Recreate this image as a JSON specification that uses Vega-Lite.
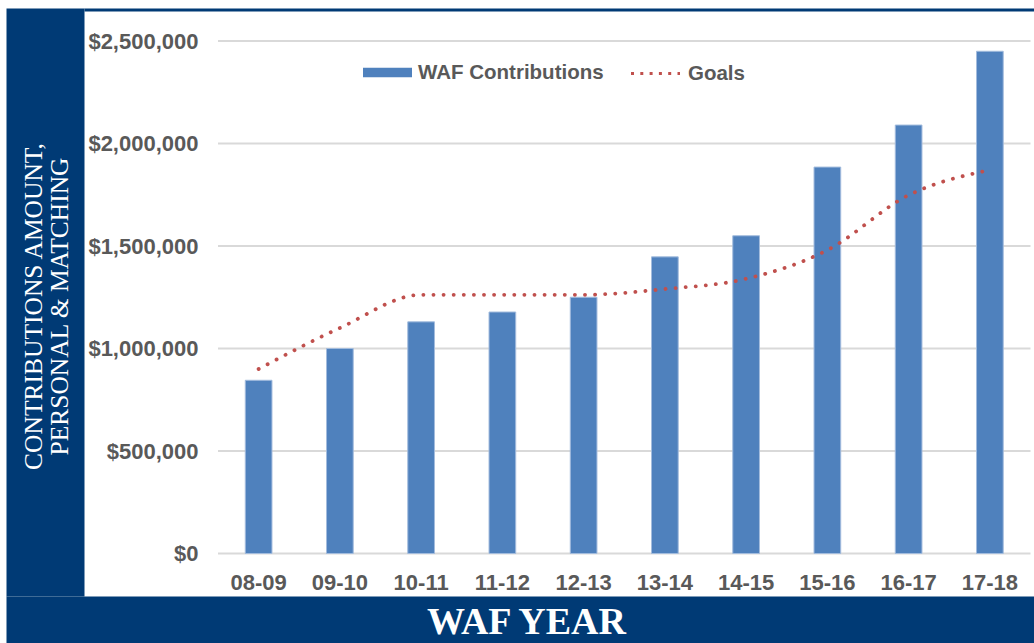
{
  "$schema": "https://vega.github.io/schema/vega-lite/v6.json",
  "autosize": {"type": "none"},
  "width": 950,
  "height": 588,
  "padding": {"left": 84, "top": 8, "right": 0, "bottom": 47},
  "background": "white",
  "config": {"view": {"stroke": null}},
  "datasets": {
    "main": [
      {"year": "08-09", "series": "WAF Contributions", "value": 845000},
      {"year": "09-10", "series": "WAF Contributions", "value": 1000000},
      {"year": "10-11", "series": "WAF Contributions", "value": 1130000},
      {"year": "11-12", "series": "WAF Contributions", "value": 1178000},
      {"year": "12-13", "series": "WAF Contributions", "value": 1250000},
      {"year": "13-14", "series": "WAF Contributions", "value": 1447000},
      {"year": "14-15", "series": "WAF Contributions", "value": 1550000},
      {"year": "15-16", "series": "WAF Contributions", "value": 1885000},
      {"year": "16-17", "series": "WAF Contributions", "value": 2090000},
      {"year": "17-18", "series": "WAF Contributions", "value": 2450000},
      {"year": "08-09", "series": "Goals", "value": 900000},
      {"year": "09-10", "series": "Goals", "value": 1100000},
      {"year": "10-11", "series": "Goals", "value": 1262000},
      {"year": "11-12", "series": "Goals", "value": 1262000},
      {"year": "12-13", "series": "Goals", "value": 1262000},
      {"year": "13-14", "series": "Goals", "value": 1290000},
      {"year": "14-15", "series": "Goals", "value": 1340000},
      {"year": "15-16", "series": "Goals", "value": 1480000},
      {"year": "16-17", "series": "Goals", "value": 1748000},
      {"year": "17-18", "series": "Goals", "value": 1871000}
    ],
    "grid": [
      {"value": 0, "first": "08-09", "last": "17-18"},
      {"value": 500000, "first": "08-09", "last": "17-18"},
      {"value": 1000000, "first": "08-09", "last": "17-18"},
      {"value": 1500000, "first": "08-09", "last": "17-18"},
      {"value": 2000000, "first": "08-09", "last": "17-18"},
      {"value": 2500000, "first": "08-09", "last": "17-18"}
    ]
  },
  "encoding": {
    "y": {
      "field": "value",
      "type": "quantitative",
      "scale": {"domain": [-207317, 2660976], "nice": false, "zero": false},
      "axis": {
        "values": [0, 500000, 1000000, 1500000, 2000000, 2500000],
        "format": "$,.0f",
        "orient": "left",
        "offset": 39,
        "domain": true,
        "domainColor": "#003A75",
        "domainWidth": 78,
        "domainCap": "butt",
        "ticks": false,
        "tickSize": 0,
        "grid": false,
        "labelPadding": -153,
        "labelFont": "Liberation Sans",
        "labelFontSize": 22,
        "labelFontWeight": "bold",
        "labelColor": "#595959",
        "labelOverlap": false,
        "labelFlush": false,
        "title": ["CONTRIBUTIONS AMOUNT,", "PERSONAL & MATCHING"],
        "titleFont": "Liberation Serif",
        "titleFontSize": 25.5,
        "titleFontWeight": "normal",
        "titleColor": "white",
        "titleX": -12,
        "titleY": 298,
        "titleAngle": -90,
        "titleAlign": "center",
        "titleBaseline": "middle",
        "titleLineHeight": 26
      }
    }
  },
  "layer": [
    {
      "data": {"name": "grid"},
      "mark": {"type": "rule", "strokeWidth": 2, "color": "#D9D9D9", "xOffset": -40.625, "x2Offset": 40.625},
      "encoding": {
        "x": {
          "field": "first",
          "type": "nominal",
          "scale": {
            "domain": ["08-09", "09-10", "10-11", "11-12", "12-13", "13-14", "14-15", "15-16", "16-17", "17-18"],
            "paddingInner": 0.3077,
            "paddingOuter": 1,
            "align": 0.9015,
            "round": false
          },
          "axis": {
            "orient": "bottom",
            "offset": 78,
            "domain": true,
            "domainColor": "#003A75",
            "domainWidth": 156,
            "domainCap": "square",
            "ticks": false,
            "tickSize": 0,
            "grid": false,
            "labelAngle": 0,
            "labelPadding": -85,
            "labelBaseline": "alphabetic",
            "labelFont": "Liberation Sans",
            "labelFontSize": 22,
            "labelFontWeight": "bold",
            "labelColor": "#595959",
            "title": "WAF YEAR",
            "titleFont": "Liberation Serif",
            "titleFontSize": 38,
            "titleFontWeight": "bold",
            "titleColor": "white",
            "titleX": 442,
            "titleY": -41,
            "titleAlign": "center",
            "titleBaseline": "alphabetic"
          }
        },
        "x2": {"field": "last"}
      }
    },
    {
      "data": {"name": "main"},
      "transform": [{"filter": "datum.series === 'WAF Contributions'"}],
      "mark": {"type": "bar", "stroke": "#A3BCDD", "strokeWidth": 1, "width": {"band": 0.4747}},
      "encoding": {
        "x": {
          "field": "year",
          "type": "nominal",
          "axis": {
            "orient": "top",
            "offset": -1.5,
            "domain": true,
            "domainColor": "#003A75",
            "domainWidth": 3,
            "domainCap": "butt",
            "ticks": false,
            "labels": false,
            "grid": false,
            "title": null
          }
        },
        "fill": {
          "field": "series",
          "type": "nominal",
          "scale": {"domain": ["WAF Contributions"], "range": ["#4F81BD"]},
          "legend": {
            "orient": "none",
            "legendX": 279,
            "legendY": 40,
            "title": null,
            "symbolType": "M-1,-0.19H1V0.19H-1Z",
            "symbolSize": 2401,
            "symbolStrokeWidth": 0,
            "labelOffset": 6,
            "labelFont": "Liberation Sans",
            "labelFontSize": 20.5,
            "labelFontWeight": "bold",
            "labelColor": "#595959",
            "labelLimit": 0
          }
        }
      }
    },
    {
      "data": {"name": "main"},
      "transform": [{"filter": "datum.series === 'Goals'"}],
      "mark": {"type": "line", "strokeWidth": 3.8, "strokeDash": [0.1, 10], "strokeCap": "round", "interpolate": "monotone"},
      "encoding": {
        "x": {"field": "year", "type": "nominal", "axis": null},
        "stroke": {
          "field": "series",
          "type": "nominal",
          "scale": {"domain": ["Goals"], "range": ["#C0504D"]},
          "legend": {
            "orient": "none",
            "legendX": 545,
            "legendY": 39,
            "title": null,
            "symbolType": "stroke",
            "symbolSize": 2401,
            "symbolStrokeWidth": 3.2,
            "symbolDash": [3, 6.3],
            "labelOffset": 6,
            "labelFont": "Liberation Sans",
            "labelFontSize": 20.5,
            "labelFontWeight": "bold",
            "labelColor": "#595959",
            "labelLimit": 0
          }
        }
      }
    }
  ],
  "resolve": {"axis": {"x": "independent"}}
}
